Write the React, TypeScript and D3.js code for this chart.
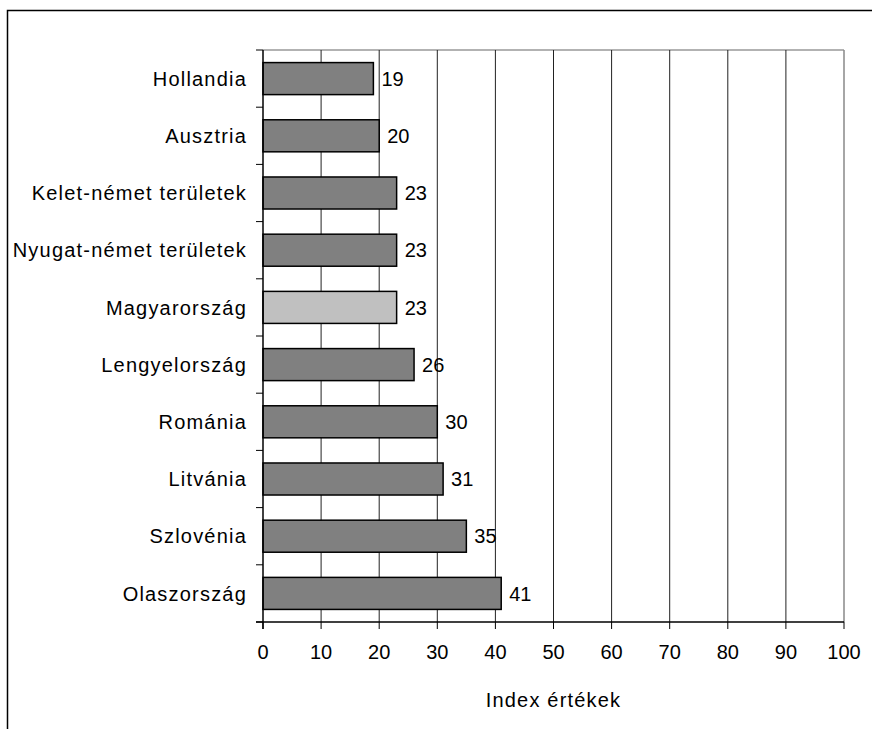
import React from "react";
import * as d3 from "d3";

const categories = [
  "Hollandia",
  "Ausztria",
  "Kelet-német területek",
  "Nyugat-német területek",
  "Magyarország",
  "Lengyelország",
  "Románia",
  "Litvánia",
  "Szlovénia",
  "Olaszország",
];
const values = [19, 20, 23, 23, 23, 26, 30, 31, 35, 41];
const highlighted = ["Magyarország"];
const xTicks = [0, 10, 20, 30, 40, 50, 60, 70, 80, 90, 100];
const xTitle = "Index értékek";

export default function App() {
  const W = 872;
  const H = 729;
  const left = 263;
  const right = 844;
  const top = 50;
  const bottom = 622;
  const x = d3.scaleLinear().domain([0, 100]).range([left, right]);
  const y = d3.scaleBand().domain(categories).range([top, bottom]).paddingInner(0.44).paddingOuter(0.22);
  const font = "Arial, 'Liberation Sans', sans-serif";
  const fs = 20;
  const ls = 1.2;
  const bandStep = (bottom - top) / categories.length;
  return (
    <svg width={W} height={H} style={{ position: "absolute", left: 0, top: 0 }}>
      <rect x={0} y={0} width={W} height={H} fill="#fff" />
      <rect x={7.5} y={10.5} width={W + 20} height={H + 20} fill="none" stroke="#000" strokeWidth={1.5} />
      {/* plot border */}
      <line x1={left} x2={right} y1={top} y2={top} stroke="#999" strokeWidth={1.5} />
      <line x1={right} x2={right} y1={top} y2={bottom} stroke="#888" strokeWidth={1.5} />
      {/* gridlines */}
      {xTicks.slice(1, -1).map((t) => (
        <line key={t} x1={x(t)} x2={x(t)} y1={top} y2={bottom} stroke="#222" strokeWidth={1} />
      ))}
      {/* bars */}
      {categories.map((c, i) => (
        <g key={c}>
          <rect
            x={x(0)}
            y={y(c)}
            width={x(values[i]) - x(0)}
            height={y.bandwidth()}
            fill={highlighted.includes(c) ? "#c0c0c0" : "#808080"}
            stroke="#000"
            strokeWidth={1.5}
          />
          <text
            x={x(values[i]) + 8}
            y={(y(c) as number) + y.bandwidth() / 2}
            dy="0.36em"
            fontFamily={font}
            fontSize={fs}
            fill="#000"
          >
            {values[i]}
          </text>
          <text
            x={left - 16}
            y={(y(c) as number) + y.bandwidth() / 2}
            dy="0.36em"
            textAnchor="end"
            fontFamily={font}
            fontSize={fs}
            letterSpacing={ls}
            fill="#000"
          >
            {c}
          </text>
        </g>
      ))}
      {/* y axis */}
      <line x1={left} x2={left} y1={top} y2={bottom + 7} stroke="#000" strokeWidth={1.5} />
      {d3.range(categories.length + 1).map((i) => (
        <line key={i} x1={left - 7} x2={left} y1={top + i * bandStep} y2={top + i * bandStep} stroke="#000" strokeWidth={1} />
      ))}
      {/* x axis */}
      <line x1={left - 7} x2={right} y1={bottom} y2={bottom} stroke="#000" strokeWidth={1.5} />
      {xTicks.map((t) => (
        <g key={t}>
          <line x1={x(t)} x2={x(t)} y1={bottom} y2={bottom + 7} stroke="#000" strokeWidth={1} />
          <text x={x(t)} y={bottom + 37} textAnchor="middle" fontFamily={font} fontSize={fs} fill="#000">
            {t}
          </text>
        </g>
      ))}
      <text x={(left + right) / 2} y={bottom + 85} textAnchor="middle" fontFamily={font} fontSize={fs} letterSpacing={ls} fill="#000">
        {xTitle}
      </text>
    </svg>
  );
}
